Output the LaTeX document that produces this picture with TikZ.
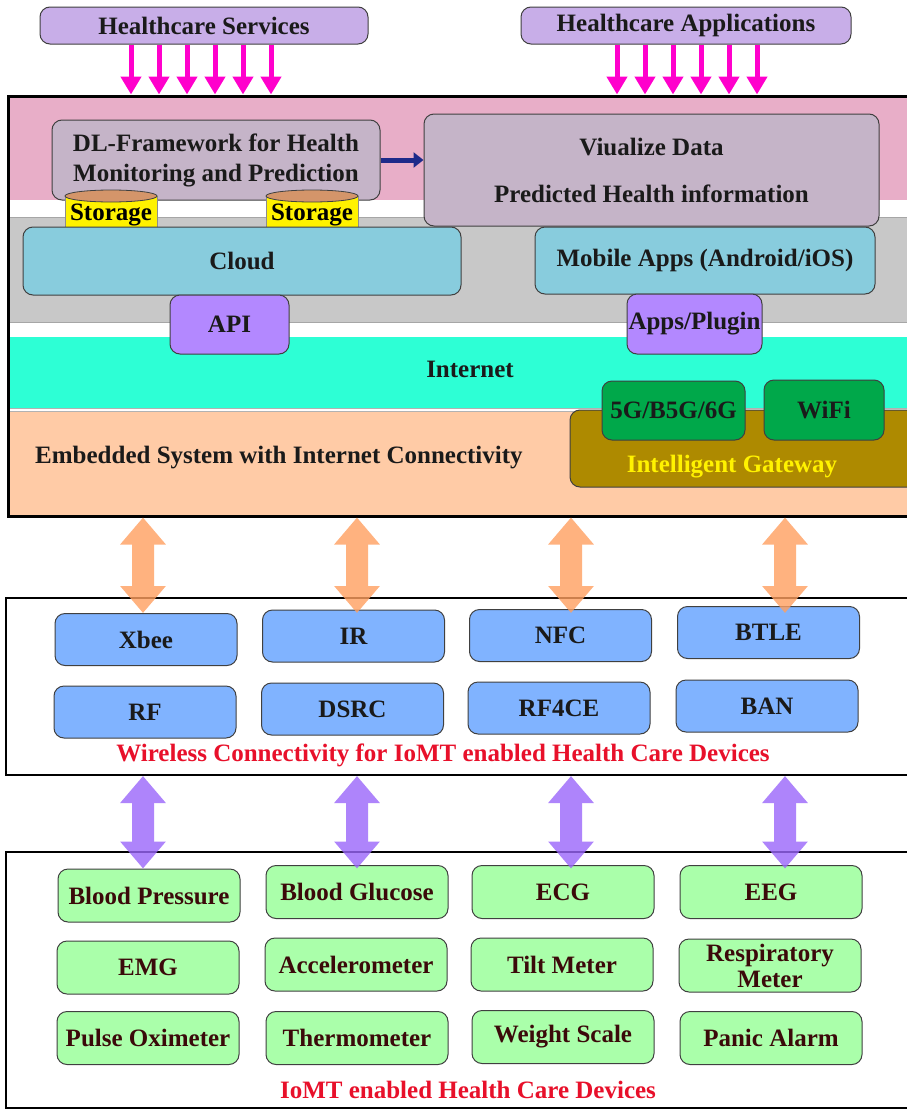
\documentclass[tikz,border=0pt]{standalone}
\usepackage{fontspec}
\setmainfont{Liberation Serif}
\usetikzlibrary{arrows.meta}
\definecolor{lavc}{HTML}{C8AEE8}
\definecolor{pinkband}{HTML}{E8AEC8}
\definecolor{mauve}{HTML}{C5B4C8}
\definecolor{grayband}{HTML}{C8C8C8}
\definecolor{cloudc}{HTML}{88CCDD}
\definecolor{apic}{HTML}{B388FF}
\definecolor{cyanband}{HTML}{2DFFD5}
\definecolor{peach}{HTML}{FFCBA6}
\definecolor{olive}{HTML}{AE8A00}
\definecolor{gfive}{HTML}{00A84A}
\definecolor{storc}{HTML}{FFF200}
\definecolor{stortop}{HTML}{D4956A}
\definecolor{bluebox}{HTML}{80B3FF}
\definecolor{greenbox}{HTML}{AAFFAA}
\definecolor{redtxt}{HTML}{E8102A}
\definecolor{browntxt}{HTML}{3B0A0A}
\definecolor{magentac}{HTML}{FF00CC}
\definecolor{navyc}{HTML}{1E2A8A}
\definecolor{orangec}{HTML}{FF9F60}
\definecolor{purplec}{HTML}{9A66FA}
\definecolor{txtc}{HTML}{1A1A1A}
\definecolor{edgec}{HTML}{404040}
\begin{document}
\begin{tikzpicture}[x=1pt,y=-1pt,
  font=\bfseries\fontsize{25}{30}\selectfont,
  sz/.style n args={2}{minimum width=#1pt,minimum height=#2pt},
  box/.style={draw=edgec,line width=1pt,rounded corners=10pt,inner sep=0pt,align=center,text=txtc},
  lavbox/.style={box,fill=lavc},
  mauvebox/.style={box,fill=mauve},
  cloudbox/.style={box,fill=cloudc},
  apibox/.style={box,fill=apic},
  gbox/.style={box,fill=gfive},
  bbox/.style={box,fill=bluebox,sz={182}{52}},
  grbox/.style={box,fill=greenbox,sz={182}{53},text=browntxt,font=\bfseries\fontsize{25}{26}\selectfont},
  frame/.style={draw=black,inner sep=0pt},
  plain/.style={inner sep=0pt,text=txtc},
  parrow/.style={draw=magentac,line width=5pt,-{Triangle[width=20pt,length=18pt]}},
  narrow/.style={draw=navyc,line width=5pt,-{Triangle[width=15pt,length=10pt]}},
  oarrow/.style={draw=orangec,line width=22pt,{Triangle[width=44pt,length=27pt]}-{Triangle[width=44pt,length=27pt]}},
  uarrow/.style={draw=purplec,line width=22pt,{Triangle[width=44pt,length=27pt]}-{Triangle[width=44pt,length=27pt]}}
]
\useasboundingbox[fill=white] (0,0) rectangle (906,1111);

% ---- top boxes
\node[lavbox,sz={328}{37}] (hs) at (204,25.5) {Healthcare Services};
\node[lavbox,sz={330}{37}] (ha) at (686,25.5) {Healthcare Applications};

% ---- top frame bands
\fill[pinkband] (8,96) rectangle (920,200);
\fill[grayband,draw=gray!70] (8,217) rectangle (920,322);
\fill[cyanband] (8,337) rectangle (920,408);
\draw[gray!60,line width=0.8pt] (8,408.5) -- (920,408.5) (8,411) -- (920,411);
\fill[peach] (8,411.5) rectangle (920,516);
\node[frame,line width=3pt,sz={912}{420}] (top) at (464,306) {};

% ---- pink arrows
\foreach \i/\x in {1/131,2/159,3/187,4/215,5/243,6/271}{
  \coordinate (p\i) at (\x,0);
  \draw[parrow] (p\i |- hs.south) -- (p\i |- top.north);
}
\foreach \i/\x in {1/617,2/645,3/673,4/701,5/729,6/757}{
  \coordinate (q\i) at (\x,0);
  \draw[parrow] (q\i |- ha.south) -- (q\i |- top.north);
}

% ---- DL framework and visualisation
\node[mauvebox,sz={328}{80}] (dl) at (216,160) {DL-Framework for Health\\Monitoring and Prediction};
\node[mauvebox,sz={455}{112}] (vis) at (651.5,170) {Viualize Data\\[17pt]Predicted Health information};
\draw[narrow] (dl.east) -- (dl.east -| vis.west);

% ---- storage cylinders
\foreach \n/\cx in {st1/111,st2/312}{
  \fill[storc] (\cx-46,196) rectangle (\cx+46,232);
  \draw[edgec!60,line width=0.6pt] (\cx-46,196) -- (\cx-46,232) (\cx+46,196) -- (\cx+46,232);
  \draw[draw=edgec,line width=0.8pt,fill=stortop] (\cx,196) ellipse (46 and 6);
  \node[plain,text=black] (\n) at (\cx,215) {Storage};
}

% ---- cloud, mobile apps
\node[cloudbox,sz={438}{68}] (cloud) at (242,261) {Cloud};
\node[cloudbox,sz={340}{67}] (mobile) at (705,260.5) {Mobile Apps (Android/iOS)};
\node[apibox,sz={119}{59}] (api) at (229.5,324.5) {API};
\node[apibox,sz={135}{60}] (plugin) at (694.5,324) {Apps/Plugin};

% ---- internet, embedded, gateway
\node[plain] (internet) at (470,369) {Internet};
\node[plain,anchor=west] (embedded) at (35,458) {Embedded System with Internet Connectivity};
\node[box,fill=olive,sz={360}{77}] (gateway) at (750,448.5) {};
\node[plain,text=yellow] (gwlabel) at (732,467) {Intelligent Gateway};
\node[gbox,sz={143}{59}] (g5) at (673.5,410.5) {5G/B5G/6G};
\node[gbox,sz={120}{60}] (wifi) at (824,410) {WiFi};

% ---- middle frame
\node[frame,line width=2pt,sz={914}{177}] (mid) at (463,686.5) {};
\node[bbox] (xbee) at (146,639.5) {Xbee};
\node[bbox] (ir) at (353.5,636) {IR};
\node[bbox] (nfc) at (560.5,635.5) {NFC};
\node[bbox] (btle) at (768.5,632.5) {BTLE};
\node[bbox] (rf) at (145,712) {RF};
\node[bbox] (dsrc) at (352.5,709) {DSRC};
\node[bbox] (rf4ce) at (559,708) {RF4CE};
\node[bbox] (ban) at (767,706) {BAN};
\node[plain,text=redtxt] (wlabel) at (443,755) {Wireless Connectivity for IoMT enabled Health Care Devices};

% ---- bottom frame
\node[frame,line width=2pt,sz={914}{256}] (bot) at (463,980) {};
\node[grbox] (bp) at (149,895.5) {Blood Pressure};
\node[grbox] (bg) at (357,892) {Blood Glucose};
\node[grbox] (ecg) at (563,892) {ECG};
\node[grbox] (eeg) at (771,892) {EEG};
\node[grbox] (emg) at (148,967.5) {EMG};
\node[grbox] (acc) at (356,964.5) {Accelerometer};
\node[grbox] (tilt) at (562,964.5) {Tilt Meter};
\node[grbox] (resp) at (770,965.5) {Respiratory\\Meter};
\node[grbox] (po) at (148,1038) {Pulse Oximeter};
\node[grbox] (th) at (357,1038) {Thermometer};
\node[grbox] (ws) at (563,1037) {Weight Scale};
\node[grbox] (pa) at (771,1038) {Panic Alarm};
\node[plain,text=redtxt] (blabel) at (468,1090) {IoMT enabled Health Care Devices};

% ---- double arrows
\foreach \i/\x in {1/143,2/357,3/571,4/785}{\coordinate (a\i) at (\x,0);}
\begin{scope}[opacity=0.8,transparency group]
\foreach \i in {1,2,3,4}{
  \draw[oarrow] (a\i |- top.south) -- (a\i |- xbee.north);
}
\end{scope}
\begin{scope}[opacity=0.8,transparency group]
\foreach \i in {1,2,3,4}{
  \draw[uarrow] (a\i |- mid.south) -- (a\i |- bp.north);
}
\end{scope}
\end{tikzpicture}
\end{document}
